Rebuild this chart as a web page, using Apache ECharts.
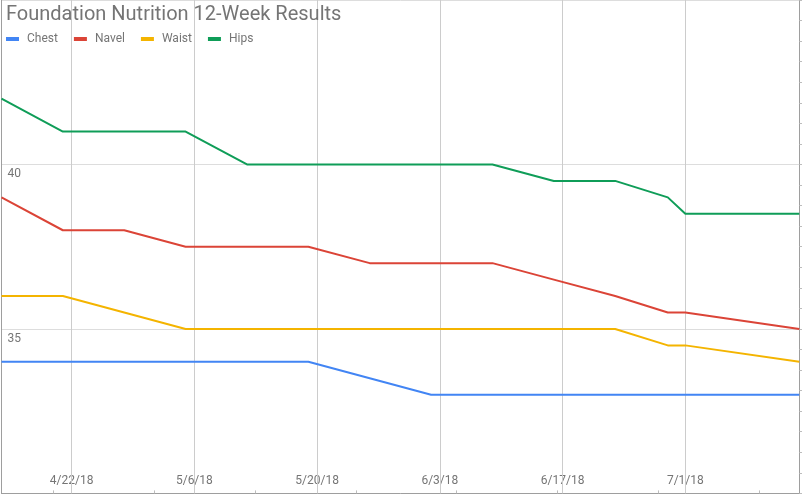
<!DOCTYPE html>
<html>
<head>
<meta charset="utf-8">
<script src="https://cdn.jsdelivr.net/npm/echarts@6/dist/echarts.min.js"></script>
<style>
html,body{margin:0;padding:0;background:#fff;}
#chart{width:802px;height:496px;}
</style>
</head>
<body>
<div id="chart"></div>
<script>
const titleText = 'Foundation Nutrition 12-Week Results';
const seriesNames = ['Chest', 'Navel', 'Waist', 'Hips'];
const dates = ['2018-04-14','2018-04-21','2018-04-28','2018-05-05','2018-05-12','2018-05-19','2018-05-26','2018-06-02','2018-06-09','2018-06-16','2018-06-23','2018-06-29','2018-07-01','2018-07-14'];
const chest = [34, 34, 34, 34, 34, 34, 33.5, 33, 33, 33, 33, 33, 33, 33];
const navel = [39, 38, 38, 37.5, 37.5, 37.5, 37, 37, 37, 36.5, 36, 35.5, 35.5, 35];
const waist = [36, 36, 35.5, 35, 35, 35, 35, 35, 35, 35, 35, 34.5, 34.5, 34];
const hips = [42, 41, 41, 41, 40, 40, 40, 40, 40, 39.5, 39.5, 39, 38.5, 38.5];
const xLabelDates = ['2018-04-22','2018-05-06','2018-05-20','2018-06-03','2018-06-17','2018-07-01'];
const xMinorTickDates = ['2018-04-19 22:00','2018-05-01 10:00','2018-05-12 22:00','2018-05-24 10:00','2018-06-04 22:00','2018-06-16 10:00','2018-06-27 22:00','2018-07-09 10:00'];
const yMin = 30, yMax = 45, yStep = 5;
const colors = ['#4285F4', '#DB4437', '#F4B400', '#0F9D58'];

function toTs(s) {
  const [d, t] = s.split(' ');
  const [y, m, dd] = d.split('-').map(Number);
  let h = 0, mi = 0;
  if (t) { [h, mi] = t.split(':').map(Number); }
  return new Date(y, m - 1, dd, h, mi).getTime();
}
function fmt(v) {
  const d = new Date(v);
  return (d.getMonth() + 1) + '/' + d.getDate() + '/' + String(d.getFullYear()).slice(2);
}

const values = [chest, navel, waist, hips];
const labelTs = xLabelDates.map(toTs);
const minorTs = xMinorTickDates.map(toTs);

const series = seriesNames.map((name, i) => {
  const s = {
    name: name,
    type: 'line',
    showSymbol: false,
    symbol: 'none',
    z: 3,
    lineStyle: { width: 2, color: colors[i] },
    itemStyle: { color: colors[i] },
    data: dates.map((d, k) => [toTs(d), values[i][k]])
  };
  if (i === 0) {
    s.markLine = {
      silent: true,
      symbol: 'none',
      z: 1,
      animation: false,
      label: { show: false },
      emphasis: { disabled: true },
      lineStyle: { color: '#cccccc', type: 'solid', width: 1 },
      data: labelTs.map(t => ({ xAxis: t }))
    };
  }
  return s;
});

const chart = echarts.init(document.getElementById('chart'), null, { renderer: 'canvas' });
chart.setOption({
  animation: false,
  textStyle: { fontFamily: 'Roboto' },
  title: {
    text: titleText,
    left: 6,
    top: 5,
    padding: 0,
    textStyle: { fontSize: 20, fontWeight: 'normal', color: '#757575', fontFamily: 'Roboto' }
  },
  legend: {
    data: seriesNames,
    left: 6,
    top: 33,
    padding: 0,
    icon: 'rect',
    itemWidth: 13,
    itemHeight: 4,
    itemGap: 16,
    textStyle: { fontSize: 12, color: '#757575', fontFamily: 'Roboto', padding: [0, 0, 0, 3] }
  },
  grid: { left: 1.5, right: 2.7, top: 0, bottom: 2.6, containLabel: false },
  xAxis: [{
    type: 'value',
    min: toTs(dates[0]),
    max: toTs(dates[dates.length - 1]),
    axisLine: { show: true, lineStyle: { color: '#9e9e9e', width: 1 } },
    axisTick: { show: true, inside: true, length: 3, customValues: minorTs, lineStyle: { color: '#bdbdbd' } },
    axisLabel: { inside: true, margin: 6, customValues: labelTs, formatter: fmt, color: '#757575', fontSize: 12, fontFamily: 'Roboto', hideOverlap: false },
    splitLine: { show: false }
  }],
  yAxis: [{
    type: 'value',
    min: yMin, max: yMax, interval: yStep,
    position: 'left',
    axisLine: { show: true, lineStyle: { color: '#9e9e9e' } },
    axisTick: { show: false },
    axisLabel: { inside: true, margin: 6, verticalAlign: 'top', padding: [4, 0, 0, 0], showMinLabel: false, showMaxLabel: false, color: '#757575', fontSize: 12, fontFamily: 'Roboto' },
    splitLine: { show: true, lineStyle: { color: '#dddddd' } }
  }, {
    type: 'value',
    min: yMin, max: yMax, interval: yStep,
    position: 'right',
    axisLine: { show: true, lineStyle: { color: '#9e9e9e' } },
    axisTick: { show: true, length: 3, lineStyle: { color: '#bdbdbd' } },
    minorTick: { show: true, splitNumber: 8, length: 3, lineStyle: { color: '#bdbdbd' } },
    axisLabel: { show: false },
    splitLine: { show: false }
  }],
  series: series
});
</script>
</body>
</html>
